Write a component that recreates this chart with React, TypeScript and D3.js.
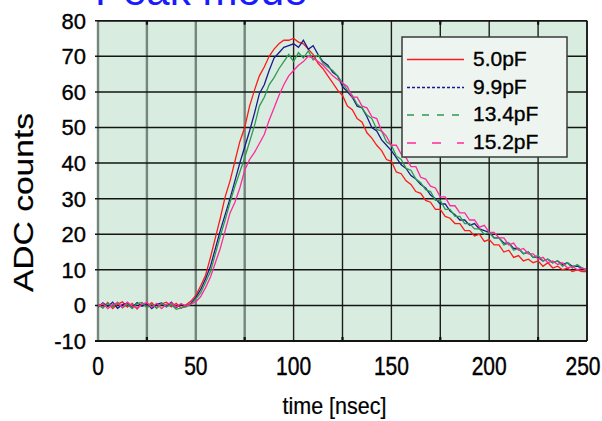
import React from "react";
import * as d3 from "d3";

const SAMPLE_STEP = 2.5; // nsec between samples

const seriesNames = ["5.0pF", "9.9pF", "13.4pF", "15.2pF"];
const seriesColors = ["#ff1a1a", "#1a1a8c", "#2e9a50", "#ff2a9c"];
const legendDash = ["none", "3 2", "7 8", "9 16"];

const red50 = [
  0.4, -0.6, 0.8, -0.9, 0.3, 1.0, -0.5, 0.6, -1.0, 0.5,
  -0.3, 0.8, -0.7, 0.4, 0.9, -0.4, 0.6, -0.8, 0.2, 1.2,
  2.8, 5.5, 8.5, 13.5, 19, 24.5, 30.5, 35, 40.5, 46,
  50, 56, 60.5, 64.5, 67, 70, 72, 73.5, 74.5, 74.5,
  75, 74, 73.5, 72, 70.5, 68, 66.5, 64.5, 62.5, 60.5,
  59, 56, 55, 52.5, 51.5, 48.5, 47, 45, 43.5, 41,
  40.5, 37.5, 37, 35, 34, 32, 31.5, 29.5, 29, 27,
  27, 25, 24.5, 23, 23, 21, 21, 19.5, 20, 18,
  18.5, 17, 17, 15, 15.5, 13.5, 14, 12.5, 13, 12,
  12.5, 11, 12, 10.5, 11, 10, 10.5, 9.5, 10, 9.5,
  9.5,
];

const blue99 = [
  -0.5, 0.7, -0.3, 0.9, -0.8, 0.2, 0.6, -0.6, 0.8, -0.2,
  0.5, -0.9, 0.3, 0.7, -0.4, 0.9, -0.6, 0.4, -0.3, 0.6,
  2.2, 4.5, 7.5, 11, 16, 21, 25.5, 30, 35, 40,
  44.5, 49, 54, 59.5, 62, 66, 69.5, 71, 72.5, 73,
  73.5, 72.5, 74.5, 72, 73, 70.5, 68.5, 67.5, 65.5, 64.5,
  61.5, 60, 58.5, 56, 55.5, 53, 50, 49, 46.5, 45,
  43.5, 41.5, 39.5, 38.5, 36.5, 35.5, 34, 33, 31, 30,
  28.5, 28.5, 26.5, 25.5, 24, 24, 22.5, 23, 21.5, 21,
  20.5, 19, 19, 17.5, 17.5, 16, 16, 14.5, 15, 13.5,
  13.5, 12.5, 13, 12, 12.5, 11.5, 12, 11, 11, 10.5,
  10,
];

const green134 = [
  0.2, -0.8, 0.6, -0.4, 0.9, -0.7, 0.3, -0.9, 0.5, 0.8,
  -0.6, 0.4, -0.8, 0.6, -0.3, 0.2, -1.1, -0.7, -0.4, 0.3,
  1.8, 3.5, 6.5, 9.5, 14.5, 19.5, 24, 29, 33.5, 37.5,
  41.5, 46, 50.5, 56, 58.5, 62, 64, 66.5, 68.5, 70.5,
  68.5, 71, 69.5, 71.5, 69, 70.5, 68, 67, 66, 64.5,
  62.5, 60.5, 59, 56.5, 55.5, 53.5, 52.5, 49.5, 49, 46,
  45, 42, 41, 38.5, 38, 35.5, 34.5, 32.5, 32, 29.5,
  29.5, 27, 27, 25, 25, 23, 23, 21.5, 21.5, 20,
  20.5, 19, 19, 17, 17.5, 15.5, 16, 14.5, 15, 13.5,
  14, 12.5, 13, 12, 12.5, 11, 12, 10.5, 11.5, 10.5,
  10,
];

const magenta152 = [
  -0.3, 0.5, -0.9, 0.2, 0.7, -0.6, 0.9, -0.2, -0.7, 0.4,
  0.8, -0.5, 0.6, -0.9, 0.3, 0.7, -0.4, 0.5, -0.2, 0.4,
  1.0, 2.5, 5, 8, 12, 16, 21, 26, 29, 33,
  38, 41, 43, 45.5, 48, 52, 55.5, 59, 62, 64.5,
  66, 67.5, 68.5, 70, 69.5, 68.5, 67.5, 66, 64.5, 63.5,
  62.5, 61.5, 58.5, 58.5, 56, 55.5, 53, 52.5, 49, 47.5,
  45, 45, 42.5, 41.5, 39, 39, 36, 35.5, 33.5, 33,
  30.5, 30.5, 28, 28, 26, 26, 24, 24, 22, 22.5,
  20.5, 20.5, 19, 19, 17, 17.5, 15.5, 16, 14.5, 14.5,
  13, 13.5, 12, 12.5, 11.5, 12, 10.5, 11, 10, 10.5,
  10,
];

const seriesValues = [red50, blue99, green134, magenta152];

const xTicks = [0, 50, 100, 150, 200, 250];
const xGrid = [0, 25, 50, 75, 100, 125, 150, 175, 200, 225, 250];
const yTicks = [-10, 0, 10, 20, 30, 40, 50, 60, 70, 80];

const W = 602;
const H = 421;
const FONT = "'Liberation Sans', Arial, Helvetica, sans-serif";

export default function App() {
  const x = d3.scaleLinear().domain([0, 250]).range([98, 587]);
  const y = d3.scaleLinear().domain([-10, 80]).range([341, 20.7]);

  const line = d3
    .line<number>()
    .x((_, i) => x(i * SAMPLE_STEP))
    .y((d) => y(d))
    .curve(d3.curveLinear);

  const x0 = x(0), x1 = x(250), yTop = y(80), yBot = y(-10);

  const legendX = 402, legendY = 37, legendW = 165, legendH = 120;
  const rowY = [59.5, 87.5, 115, 143];
  const bold = { stroke: "#000", strokeWidth: 0.35 };

  return (
    <svg
      width={W}
      height={H}
      style={{ position: "absolute", left: 0, top: 0, background: "#ffffff" }}
      fontFamily={FONT}
    >
      <defs>
        <clipPath id="plotclip">
          <rect x={x0} y={yTop} width={x1 - x0} height={yBot - yTop} />
        </clipPath>
      </defs>

      {/* title (cut off at top) */}
      <text x={95} y={5} fontSize={42} fill="#1a1aff">
        Peak mode
      </text>

      {/* plot background */}
      <rect x={x0} y={yTop} width={x1 - x0} height={yBot - yTop} fill="#d9ece0" />

      {/* vertical grid */}
      {xGrid.map((v) => (
        <line
          key={"vx" + v}
          x1={x(v)}
          x2={x(v)}
          y1={yTop}
          y2={yBot}
          stroke={v < 100 ? "#76867c" : "#1e1e1e"}
          strokeWidth={v < 100 ? 2.4 : 1.4}
        />
      ))}

      {/* horizontal grid + y ticks */}
      {yTicks.map((v) => (
        <line
          key={"hy" + v}
          x1={x0 - 3}
          x2={x1}
          y1={y(v)}
          y2={y(v)}
          stroke="#141414"
          strokeWidth={1.5}
        />
      ))}

      {/* small tick marks */}
      {[25, 75, 125, 175, 225].map((v) => (
        <line key={"tt" + v} x1={x(v)} x2={x(v)} y1={yTop} y2={yTop + 4} stroke="#111" strokeWidth={2.2} />
      ))}
      {[25, 75, 125, 175, 225].map((v) => (
        <line key={"tb" + v} x1={x(v)} x2={x(v)} y1={yBot - 4} y2={yBot} stroke="#111" strokeWidth={2.2} />
      ))}

      {/* series */}
      <g clipPath="url(#plotclip)">
        {seriesValues.map((vals, k) => (
          <path
            key={seriesNames[k]}
            d={line(vals) || ""}
            fill="none"
            stroke={seriesColors[k]}
            strokeWidth={1.3}
            strokeLinejoin="miter"
          />
        ))}
      </g>

      {/* frame */}
      <line x1={x0} x2={x1} y1={yTop} y2={yTop} stroke="#141414" strokeWidth={1.6} />
      <line x1={x0 - 3} x2={x1} y1={yBot} y2={yBot} stroke="#141414" strokeWidth={1.8} />
      <line x1={x1} x2={x1} y1={yTop} y2={yBot} stroke="#141414" strokeWidth={1.6} />

      {/* y tick labels */}
      {yTicks.map((v) => (
        <text
          key={"yl" + v}
          x={86}
          y={y(v) + 8}
          fontSize={22}
          textAnchor="end"
          fill="#000"
          {...bold}
        >
          {v}
        </text>
      ))}

      {/* x tick labels */}
      {xTicks.map((v) => (
        <text
          key={"xl" + v}
          transform={`translate(${v === 250 ? x(v) - 4 : x(v)},375) scale(1,1.22)`}
          fontSize={21}
          textAnchor="middle"
          fill="#000"
          {...bold}
        >
          {v}
        </text>
      ))}

      {/* axis titles */}
      <text
        transform="translate(334.5,414) scale(1,1.08)"
        fontSize={21.5}
        textAnchor="middle"
        fill="#000"
        stroke="#000"
        strokeWidth={0.2}
      >
        time [nsec]
      </text>
      <text
        transform="translate(33,202.5) rotate(-90) scale(1.2,1)"
        fontSize={28}
        textAnchor="middle"
        fill="#000"
        stroke="#000"
        strokeWidth={0.2}
      >
        ADC counts
      </text>

      {/* legend */}
      <rect
        x={legendX}
        y={legendY}
        width={legendW}
        height={legendH}
        fill="#eef5f1"
        stroke="#3a3a3a"
        strokeWidth={1.5}
      />
      {seriesNames.map((name, k) => (
        <g key={"lg" + name}>
          <line
            x1={407}
            x2={464}
            y1={rowY[k]}
            y2={rowY[k]}
            stroke={seriesColors[k]}
            strokeWidth={1.5}
            strokeDasharray={legendDash[k]}
          />
          <text x={473} y={rowY[k] + 6} fontSize={21} fill="#000" {...bold}>
            {name}
          </text>
        </g>
      ))}
    </svg>
  );
}
